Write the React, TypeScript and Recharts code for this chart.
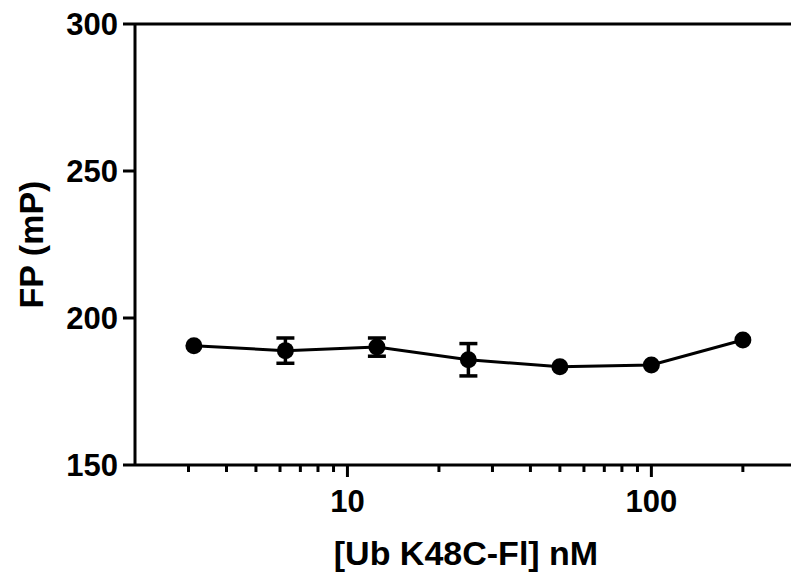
import React from 'react';
import { LineChart, Line, XAxis, YAxis, ErrorBar, ReferenceLine } from 'recharts';

const concentrations = [3.125, 6.25, 12.5, 25, 50, 100, 200];
const fpValues = [190.6, 188.9, 190.1, 185.8, 183.4, 184.0, 192.5];
const fpErrors: (number | null)[] = [null, 4.3, 3.1, 5.5, null, null, null];

const xTicks = [3, 4, 5, 6, 7, 8, 9, 10, 20, 30, 40, 50, 60, 70, 80, 90, 100, 200];
const xMajorTicks = [10, 100];
const yTicks = [150, 200, 250, 300];

const data = concentrations.map((c, i) => ({ conc: c, fp: fpValues[i], err: fpErrors[i] }));

const FONT = '"Liberation Sans", Arial, Helvetica, sans-serif';

const XTick = (props: any) => {
  const { x, y, payload } = props;
  const major = xMajorTicks.includes(payload.value);
  return (
    <g>
      <line x1={x} x2={x} y1={y} y2={y + (major ? 12 : 7)} stroke="#000" strokeWidth={3} />
      {major && (
        <text x={x} y={y + 47} textAnchor="middle" fontFamily={FONT} fontWeight="bold" fontSize={31} fill="#000">
          {payload.value}
        </text>
      )}
    </g>
  );
};

const XLabel = (props: any) => {
  const { viewBox } = props;
  return (
    <text x={viewBox.x + viewBox.width / 2 + 3} y={viewBox.y + 100} textAnchor="middle" fontFamily={FONT} fontWeight="bold" fontSize={34} fill="#000">
      [Ub K48C-Fl] nM
    </text>
  );
};

const YLabel = (props: any) => {
  const { viewBox } = props;
  const cx = viewBox.x + 8;
  const cy = viewBox.y + viewBox.height / 2;
  return (
    <text x={cx} y={cy} transform={`rotate(-90, ${cx}, ${cy})`} textAnchor="middle" fontFamily={FONT} fontWeight="bold" fontSize={34} fill="#000">
      FP (mP)
    </text>
  );
};

export default function App() {
  return (
    <div style={{ position: 'absolute', left: 0, top: 0, width: 791, height: 578, background: '#fff' }}>
      <LineChart width={791} height={578} data={data} margin={{ top: 24, right: 0, bottom: 0, left: 35 }}>
        <XAxis
          dataKey="conc"
          type="number"
          scale="log"
          domain={[2, 288]}
          allowDataOverflow
          ticks={xTicks}
          interval={0}
          tick={<XTick />}
          tickLine={false}
          tickSize={0}
          tickMargin={0}
          axisLine={{ stroke: '#000', strokeWidth: 3 }}
          height={113}
          label={<XLabel />}
        />
        <YAxis
          type="number"
          domain={[150, 300]}
          ticks={yTicks}
          interval={0}
          width={100}
          tickSize={12}
          tickMargin={5}
          tickLine={{ stroke: '#000', strokeWidth: 3 }}
          axisLine={{ stroke: '#000', strokeWidth: 3 }}
          tick={{ fontFamily: FONT, fontWeight: 'bold', fontSize: 31, fill: '#000' }}
          label={<YLabel />}
        />
        <ReferenceLine y={300} stroke="#000" strokeWidth={3} />
        <Line
          type="linear"
          dataKey="fp"
          stroke="#000"
          strokeWidth={3}
          dot={{ r: 8.5, fill: '#000', stroke: '#000', strokeWidth: 0 }}
          activeDot={false}
          isAnimationActive={false}
        >
          <ErrorBar dataKey="err" width={9} stroke="#000" strokeWidth={3.5} direction="y" />
        </Line>
      </LineChart>
    </div>
  );
}
